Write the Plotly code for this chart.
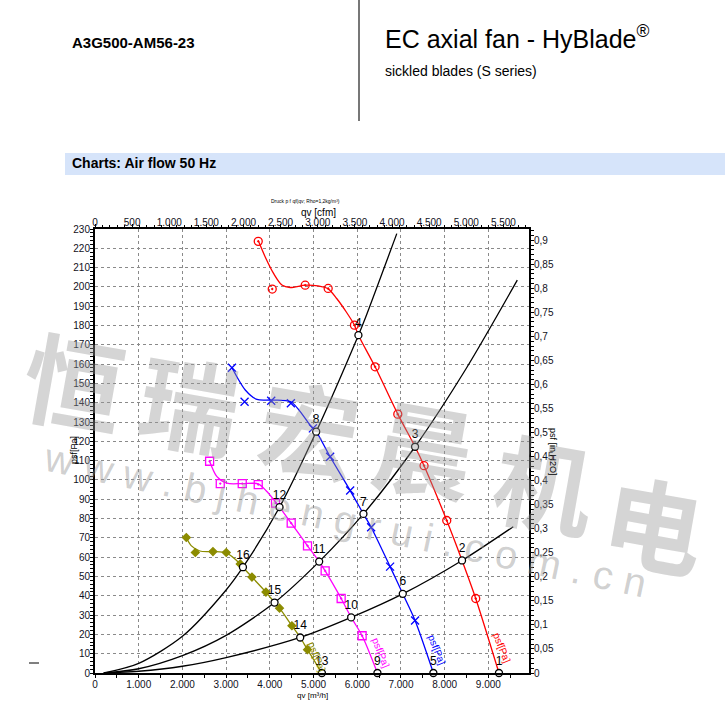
import plotly.graph_objects as go

# ---------------- data ----------------
# fan curves: qv [m3/h], psf [Pa]
red_line_q = [3735, 3895, 4085, 4276, 4466, 4809, 5100, 5335, 5530, 5750, 5936, 6027, 6409, 6928, 7323, 7529, 8048, 8398, 8711, 9243]
red_line_p = [224, 215.5, 207, 201, 199.7, 200.9, 200.5, 199, 194, 187, 180.2, 175, 158.6, 134.1, 117.2, 107.4, 79, 58.3, 38.6, 0]
red_mark_q = [3735, 4055, 4809, 5335, 5936, 6409, 6928, 7529, 8048, 8711]
red_mark_p = [223.6, 198.9, 200.9, 199.2, 180.2, 158.6, 134.1, 107.4, 79, 38.6]

blue_line_q = [3134, 3438, 3705, 4032, 4482, 4923, 5061, 5380, 5838, 6142, 6318, 6752, 7042, 7323, 7742]
blue_line_p = [158.1, 146.6, 141.7, 141.4, 140.5, 128.4, 125, 112, 94.5, 82.4, 75.5, 55.1, 41, 27.2, 0]
blue_mark_q = [3134, 3422, 4032, 4482, 4985, 5380, 5838, 6318, 6752, 7323]
blue_mark_p = [158.1, 140.5, 141, 139.7, 126.7, 112, 94.5, 75.5, 55.1, 27.2]

mag_line_q = [2622, 2790, 3019, 3369, 3735, 3933, 4222, 4489, 4862, 5129, 5266, 5632, 5861, 6112, 6462]
mag_line_p = [109.7, 101.7, 98.3, 98.1, 98, 94, 85.9, 77.6, 65.9, 57.7, 52.9, 38.6, 28.8, 19.3, 0]
mag_mark_q = [2622, 2866, 3369, 3735, 4130, 4489, 4862, 5266, 5632, 6112]
mag_mark_p = [109.7, 98.1, 98.1, 97.6, 88, 77.6, 65.9, 52.9, 38.6, 19.3]

oli_line_q = [2089, 2200, 2400, 2699, 3003, 3323, 3385, 3591, 3911, 4108, 4222, 4505, 4695, 4862, 5191]
oli_line_p = [70.2, 66, 63.2, 62.9, 62.2, 56.5, 54.8, 49.7, 41.9, 36.5, 33.6, 24.5, 18.4, 12.1, 0]
oli_mark_q = [2089, 2295, 2699, 3003, 3323, 3591, 3911, 4222, 4505, 4862]
oli_mark_p = [70.2, 62.4, 62.9, 62.4, 56.5, 49.7, 41.9, 33.6, 24.5, 12.1]

# system curves (black)
sysA_q = [200, 1000, 2000, 3000, 3385, 4222, 5061, 6027, 6181, 6905]
sysA_p = [0, 5, 19, 43, 54.8, 85.9, 125, 175, 183.6, 227.6]
sysB_q = [200, 1000, 2000, 3000, 4108, 5129, 6142, 7323, 8500, 9662]
sysB_p = [0, 2.2, 9, 19.5, 36.5, 57.7, 82.4, 117.2, 158, 203.5]
sysC_q = [200, 1000, 2000, 3000, 4695, 5861, 7042, 8398, 9570]
sysC_p = [0, 0.9, 3.5, 8, 18.4, 28.8, 41, 58.3, 75.8]

# operating points
op_labels = ["1", "2", "3", "4", "5", "6", "7", "8", "9", "10", "11", "12", "13", "14", "15", "16"]
op_q = [9243, 8398, 7323, 6027, 7742, 7042, 6142, 5061, 6462, 5861, 5129, 4222, 5191, 4695, 4108, 3385]
op_p = [0, 58.3, 117.2, 175, 0, 41, 82.4, 125, 0, 28.8, 57.7, 85.9, 0, 18.4, 36.5, 54.8]

Q_MAX = 9930          # m3/h
P_MAX = 230           # Pa
CFM = 1.699           # m3/h per cfm
INH2O = 249.089       # Pa per in H2O

# ---------------- layout geometry ----------------
W, H = 725, 706
L, R, T, B = 95, 196, 229, 33
PW, PH = W - L - R, H - T - B


def px(x):
    return (x - L) / PW


def py(y):
    return (H - B - y) / PH


RED, BLUE, MAG, OLI = "#ff0000", "#0000ff", "#ff00ff", "#8c8c00"

fig = go.Figure()

for q, p in [(sysA_q, sysA_p), (sysB_q, sysB_p), (sysC_q, sysC_p)]:
    fig.add_trace(go.Scatter(x=q, y=p, mode="lines", line=dict(color="black", width=1.3, shape="spline", smoothing=0.8),
                             showlegend=False, hoverinfo="skip"))

for lq, lp, mq, mp, col, sym, ms in [
    (red_line_q, red_line_p, red_mark_q, red_mark_p, RED, "circle-open-dot", 8),
    (blue_line_q, blue_line_p, blue_mark_q, blue_mark_p, BLUE, "x-thin-open", 8),
    (mag_line_q, mag_line_p, mag_mark_q, mag_mark_p, MAG, "square-open-dot", 8),
    (oli_line_q, oli_line_p, oli_mark_q, oli_mark_p, OLI, "diamond", 6),
]:
    fig.add_trace(go.Scatter(x=lq, y=lp, mode="lines", line=dict(color=col, width=1.3, shape="spline", smoothing=0.8),
                             showlegend=False, hoverinfo="skip"))
    fig.add_trace(go.Scatter(x=mq, y=mp, mode="markers",
                             marker=dict(symbol=sym, size=ms, color=col, line=dict(color=col, width=1.3)),
                             showlegend=False, hoverinfo="skip"))

fig.add_trace(go.Scatter(x=op_q, y=op_p, mode="markers+text", text=op_labels, textposition="top center",
                         textfont=dict(size=12, color="black", family="Liberation Sans, Arial"),
                         marker=dict(symbol="circle", size=7, color="white", line=dict(color="black", width=1.3)),
                         showlegend=False, hoverinfo="skip", cliponaxis=False))

# invisible traces for secondary axes
fig.add_trace(go.Scatter(x=[0, Q_MAX / CFM], y=[0, 0], xaxis="x2", yaxis="y", mode="lines",
                         line=dict(width=0), showlegend=False, hoverinfo="skip"))
fig.add_trace(go.Scatter(x=[0, 0], y=[0, P_MAX / INH2O], xaxis="x", yaxis="y2", mode="lines",
                         line=dict(width=0), showlegend=False, hoverinfo="skip"))

tickfont = dict(size=10, color="#111122", family="Liberation Sans, Arial")
common = dict(showline=True, linecolor="black", linewidth=2, ticks="outside", ticklen=3, tickcolor="black",
              tickfont=tickfont, zeroline=False, fixedrange=True)

fig.update_layout(
    width=W, height=H, margin=dict(l=L, r=R, t=T, b=B, autoexpand=False),
    paper_bgcolor="white", plot_bgcolor="white", separators=",.",
    font=dict(family="Liberation Sans, Arial", color="black"),
    xaxis=dict(range=[0, Q_MAX], dtick=1000, tick0=0, tickformat=",d", showgrid=True, gridcolor="#8a8a8a",
               griddash="3px,3px", gridwidth=1, ticklabelstandoff=-2,
               minor=dict(dtick=500, ticks="outside", ticklen=3, tickcolor="black", showgrid=False),
               **common),
    xaxis2=dict(range=[0, Q_MAX / CFM], dtick=500, tick0=0, tickformat=",d", overlaying="x", side="top",
                showgrid=False, ticklabelstandoff=-6,
                minor=dict(dtick=100, ticks="outside", ticklen=2, tickcolor="black"), **common),
    yaxis=dict(range=[0, P_MAX], dtick=10, tick0=0, showgrid=True, gridcolor="#8a8a8a", griddash="3px,3px",
               gridwidth=1, ticklabelstandoff=-2,
               minor=dict(dtick=2, ticks="outside", ticklen=3, tickcolor="black", showgrid=False),
               **common),
    yaxis2=dict(range=[0, P_MAX / INH2O], dtick=0.05, tick0=0, overlaying="y", side="right", showgrid=False,
                ticklabelstandoff=-2,
                minor=dict(dtick=0.01, ticks="outside", ticklen=3, tickcolor="black"), **common),
)

ann = []


def text(x, y, s, size, color="black", bold=False, angle=0, xanchor="center", family="Liberation Sans, Arial"):
    ann.append(dict(x=px(x), y=py(y), xref="paper", yref="paper", text=(f"<b>{s}</b>" if bold else s),
                    showarrow=False, font=dict(size=size, color=color, family=family), textangle=angle,
                    xanchor=xanchor, yanchor="middle"))


# watermark
wm = "rgba(150,150,150,0.40)"
for ch, x, y in [("恒", 75, 378), ("瑞", 190, 400), ("宏", 310, 425), ("晨", 425, 445), ("机", 545, 480), ("电", 655, 520)]:
    text(x, y, ch, 100, wm, bold=True, angle=10, family="Noto Sans CJK SC")
text(345, 520, "w w w . b j h e n g r u i . c o m . c n", 40, "rgba(150,150,150,0.45)", angle=12,
     family="Liberation Sans, Arial")

# header
text(70, 42, "A3G500-AM56-23", 15, bold=True, xanchor="left")
text(383, 37, "EC axial fan - HyBlade<sup>®</sup>", 25, xanchor="left")
text(383, 71, "sickled blades (S series)", 14, xanchor="left")
text(70, 163, "Charts: Air flow 50 Hz", 14, bold=True, xanchor="left")

# axis titles
text(305, 201, "Druck p f qf(qv; Rho=1,2kg/m³)", 5)
text(318, 212, "qv [cfm]", 10)
text(312, 695, "qv [m³/h]", 8)
text(74, 450, "psf[Pa]", 9, angle=-90)
text(553, 452, "psf [in H2O]", 9, angle=90)

# curve labels
for x, y, col in [(502, 647, RED), (437, 649, BLUE), (381, 652, MAG), (317, 656, OLI)]:
    text(x, y, "psf[Pa]", 10, col, angle=68)

fig.update_layout(annotations=ann)

fig.update_layout(shapes=[
    dict(type="rect", xref="paper", yref="paper", x0=px(65), x1=px(725), y0=py(175), y1=py(153),
         fillcolor="#d6e4fa", line=dict(width=0), layer="below"),
    dict(type="line", xref="paper", yref="paper", x0=px(359), x1=px(359), y0=py(0), y1=py(121),
         line=dict(color="#777777", width=2)),
    dict(type="line", xref="paper", yref="paper", x0=px(29), x1=px(39), y0=py(663), y1=py(663),
         line=dict(color="black", width=1)),
])

fig.write_html("out.html", config={"displayModeBar": False},
               post_script="document.body.style.margin='0';document.body.style.padding='0';")
